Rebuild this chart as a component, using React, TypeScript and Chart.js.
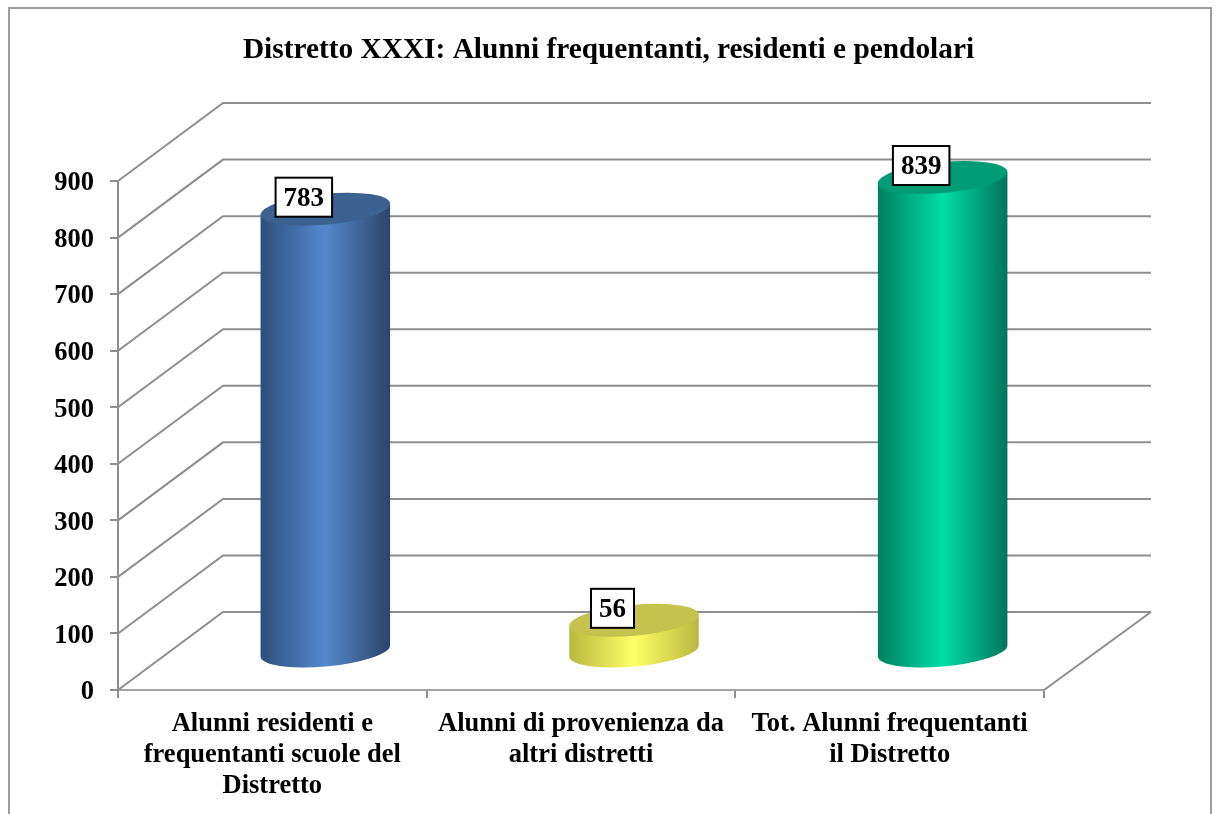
import React, { useEffect, useRef } from "react";
import { Chart, registerables } from "chart.js";

Chart.register(...registerables);

const chartTitle = "Distretto XXXI: Alunni frequentanti, residenti e pendolari";
const categories = [
  ["Alunni residenti e", "frequentanti scuole del", "Distretto"],
  ["Alunni di provenienza da", "altri distretti"],
  ["Tot. Alunni frequentanti", "il Distretto"],
];
const values = [783, 56, 839];

const FONT = "'Liberation Serif', 'Times New Roman', serif";
const DX = 105;
const DY = 78;
const CYL_DX = 53;
const CYL_DY = 38;
const GRID = "#8e8e8e";

const palettes = [
  { top: "#3c6291", edge0: "#2b4f7c", mid: "#5588cb", edge1: "#2a4568" },
  { top: "#c3c34e", edge0: "#b8b83f", mid: "#ffff66", edge1: "#b8b83f" },
  { top: "#009c76", edge0: "#007f5f", mid: "#00dea6", edge1: "#00745a" },
];

const wallsPlugin = {
  id: "walls",
  beforeDatasetsDraw(chart: any) {
    const { ctx, scales } = chart;
    const y = scales.y;
    const x = scales.x;
    ctx.save();
    ctx.strokeStyle = GRID;
    ctx.lineWidth = 2;
    for (const t of y.ticks) {
      const py = y.getPixelForValue(t.value);
      ctx.beginPath();
      ctx.moveTo(x.left, py);
      ctx.lineTo(x.left + DX, py - DY);
      ctx.lineTo(x.right + DX + 2, py - DY);
      ctx.stroke();
    }
    const base = y.getPixelForValue(0);
    ctx.beginPath();
    ctx.moveTo(x.right, base);
    ctx.lineTo(x.right + DX + 2, base - DY);
    ctx.stroke();
    ctx.restore();
  },
};

const framePlugin = {
  id: "frame",
  beforeDraw(chart: any) {
    const { ctx, width, height } = chart;
    ctx.save();
    ctx.fillStyle = "#ffffff";
    ctx.fillRect(0, 0, width, height);
    ctx.strokeStyle = "#9c9c9c";
    ctx.lineWidth = 2;
    ctx.beginPath();
    ctx.moveTo(9, height + 2);
    ctx.lineTo(9, 8);
    ctx.lineTo(1211, 8);
    ctx.lineTo(1211, height + 2);
    ctx.stroke();
    ctx.restore();
  },
};

const cylinderPlugin = {
  id: "cylinders",
  afterDatasetsDraw(chart: any) {
    const { ctx } = chart;
    const meta = chart.getDatasetMeta(0);
    const theta = (-5.2 * Math.PI) / 180;
    const b = 15.5;
    meta.data.forEach((el: any, i: number) => {
      const p = palettes[i];
      const cx = el.x + CYL_DX;
      const topY = el.y - CYL_DY;
      const botY = el.base - CYL_DY;
      const a = el.width / 2;
      const tR = Math.atan2(-b * Math.sin(theta), a * Math.cos(theta));
      const tL = tR + Math.PI;
      const px = (t: number) => a * Math.cos(t) * Math.cos(theta) - b * Math.sin(t) * Math.sin(theta);
      const py = (t: number) => a * Math.cos(t) * Math.sin(theta) + b * Math.sin(t) * Math.cos(theta);

      const g = ctx.createLinearGradient(cx - a, 0, cx + a, 0);
      g.addColorStop(0, p.edge0);
      g.addColorStop(0.5, p.mid);
      g.addColorStop(1, p.edge1);
      ctx.save();
      ctx.fillStyle = g;
      ctx.beginPath();
      ctx.ellipse(cx, botY, a, b, theta, tR, tL, false);
      ctx.lineTo(cx + px(tL), topY + py(tL));
      ctx.lineTo(cx + px(tR), topY + py(tR));
      ctx.closePath();
      ctx.fill();

      ctx.fillStyle = p.top;
      ctx.beginPath();
      ctx.ellipse(cx, topY, a, b, theta, 0, Math.PI * 2);
      ctx.fill();

      const text = String(values[i]);
      ctx.font = `bold 27px ${FONT}`;
      const w = ctx.measureText(text).width + 16;
      const h = 39;
      const bx = cx - 21.5;
      const by = topY - 12;
      ctx.fillStyle = "#ffffff";
      ctx.strokeStyle = "#000000";
      ctx.lineWidth = 2;
      ctx.fillRect(bx - w / 2, by - h / 2, w, h);
      ctx.strokeRect(bx - w / 2, by - h / 2, w, h);
      ctx.fillStyle = "#000000";
      ctx.textAlign = "center";
      ctx.textBaseline = "middle";
      ctx.fillText(text, bx, by + 2);
      ctx.restore();
    });
  },
};

export default function App() {
  const ref = useRef<HTMLCanvasElement>(null);
  useEffect(() => {
    document.body.style.margin = "0";
    const chart = new Chart(ref.current as HTMLCanvasElement, {
      type: "bar",
      data: {
        labels: categories as any,
        datasets: [
          {
            data: values,
            backgroundColor: "transparent",
            borderWidth: 0,
            barPercentage: 0.4212,
            categoryPercentage: 1,
          },
        ],
      },
      plugins: [framePlugin, wallsPlugin, cylinderPlugin],
      options: {
        responsive: false,
        animation: false,
        layout: { padding: 0 },
        plugins: {
          legend: { display: false },
          tooltip: { enabled: false },
          title: {
            display: true,
            text: chartTitle,
            color: "#000000",
            font: { family: FONT, size: 29.35, weight: "bold", lineHeight: 1.2 },
            padding: { top: 32.5, bottom: 113.3 },
          },
        },
        scales: {
          x: {
            afterFit(s: any) {
              s.height = 124;
            },
            border: { color: "#a3a3a3", width: 2 },
            grid: { drawOnChartArea: false, offset: true, tickLength: 8, color: "#8e8e8e", lineWidth: 2 },
            ticks: {
              autoSkip: false,
              maxRotation: 0,
              minRotation: 0,
              color: "#000000",
              padding: 11,
              font: { family: FONT, size: 26.5, weight: "bold", lineHeight: 1.16 },
            },
          },
          y: {
            min: 0,
            max: 900,
            afterFit(s: any) {
              s.width = 118;
            },
            border: { color: "#8e8e8e", width: 2 },
            grid: { drawOnChartArea: false, tickLength: 8, color: "#8e8e8e", lineWidth: 2 },
            ticks: {
              stepSize: 100,
              color: "#000000",
              padding: 16,
              labelOffset: 2.5,
              font: { family: FONT, size: 26.5, weight: "bold" },
            },
          },
          spacer: {
            position: "right",
            display: true,
            afterFit(s: any) {
              s.width = 173;
            },
            border: { display: false },
            grid: { display: false },
            ticks: { display: false },
          },
        },
      },
    } as any);
    return () => chart.destroy();
  }, []);
  return <canvas ref={ref} width={1217} height={814} style={{ display: "block", filter: "blur(0.4px)" }} />;
}
